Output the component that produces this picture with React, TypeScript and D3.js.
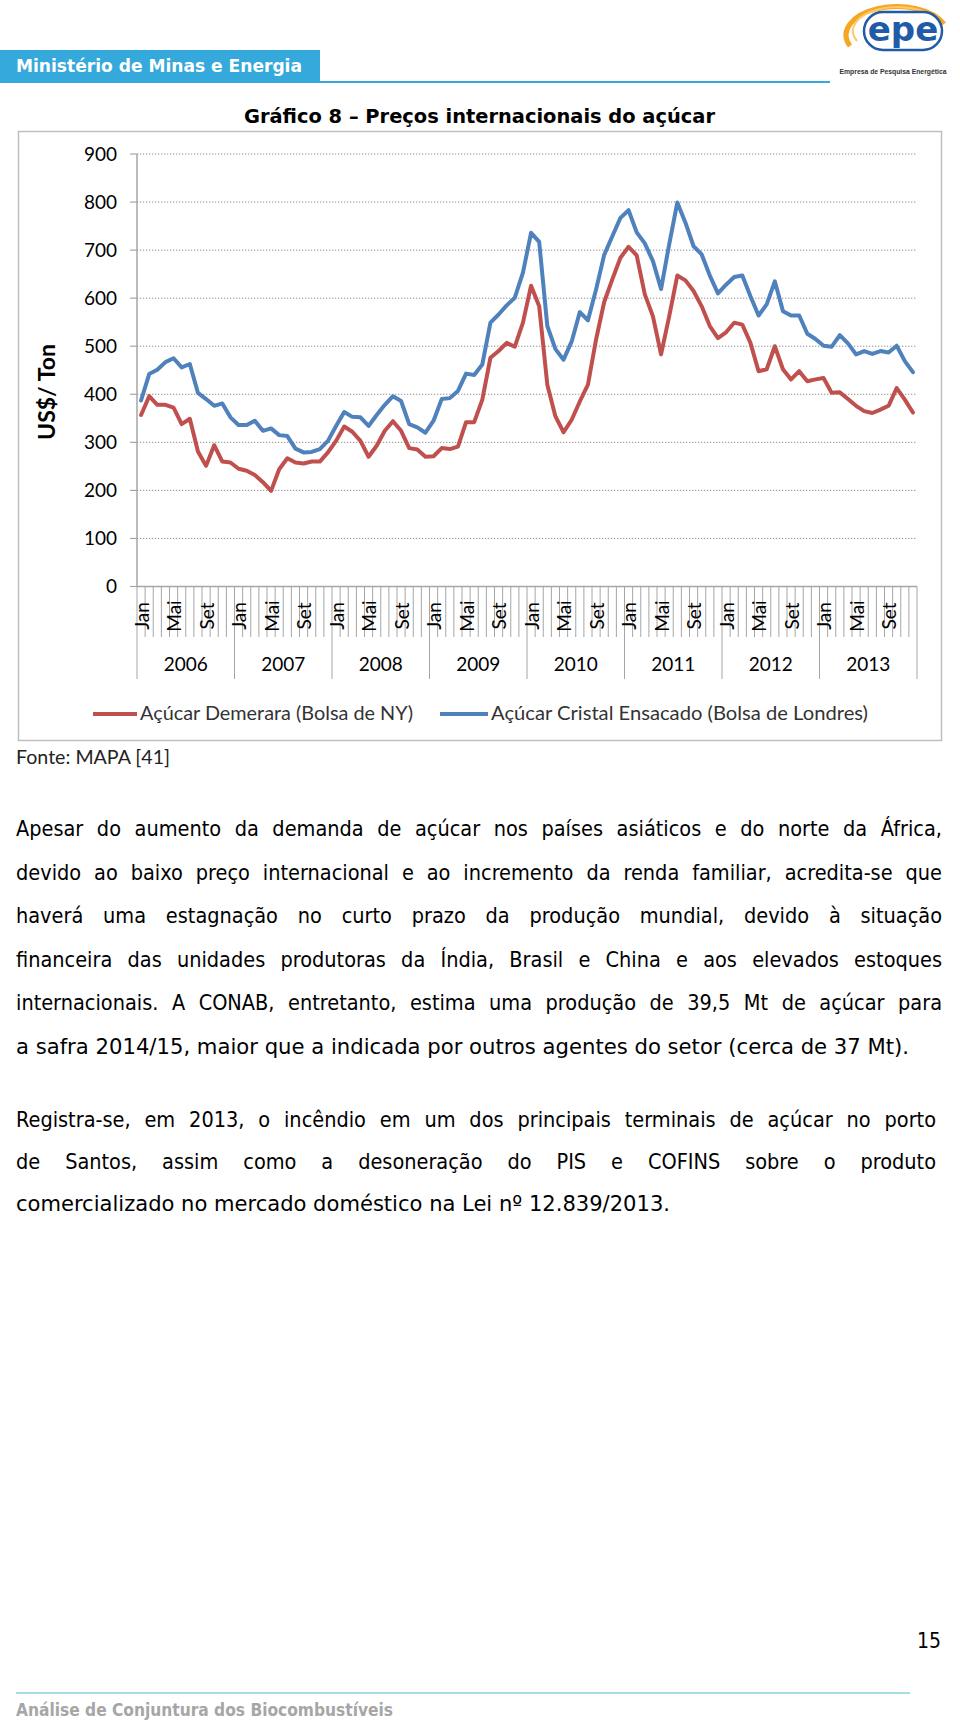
import { useLayoutEffect, useRef } from "react"
import * as d3 from "d3"

// monthly prices, Jan 2006 - Dec 2013 (US$/ton)
const years = ["2006", "2007", "2008", "2009", "2010", "2011", "2012", "2013"]
const monthNames = ["Jan", "Fev", "Mar", "Abr", "Mai", "Jun", "Jul", "Ago", "Set", "Out", "Nov", "Dez"]
const labeledMonths = ["Jan", "Mai", "Set"]
const yTicks = [0, 100, 200, 300, 400, 500, 600, 700, 800, 900]
const seriesNames = ["Açúcar Demerara (Bolsa de NY)", "Açúcar Cristal Ensacado (Bolsa de Londres)"]

const demerara = [
  357, 396, 378, 378, 372, 338, 349, 281, 251, 294, 260, 258,
  245, 241, 232, 217, 199, 244, 267, 258, 256, 260, 260, 279,
  303, 333, 322, 303, 270, 293, 324, 344, 324, 288, 285, 270,
  271, 288, 286, 291, 342, 342, 389, 476, 490, 507, 499, 549,
  626, 583, 420, 354, 321, 347, 385, 420, 514, 592, 639, 684,
  707, 689, 608, 562, 483, 562, 647, 637, 615, 583, 542, 517,
  529, 549, 545, 507, 448, 452, 500, 452, 431, 448, 427, 431,
  434, 403, 404, 390, 376, 365, 361, 368, 376, 413, 389, 362,
]
const cristal = [
  387, 442, 451, 467, 475, 456, 463, 403, 390, 376, 381, 352,
  336, 336, 345, 324, 329, 315, 313, 287, 279, 280, 286, 303,
  334, 363, 353, 352, 334, 357, 378, 396, 386, 338, 331, 320,
  345, 390, 392, 407, 443, 440, 462, 549, 566, 585, 601, 653,
  736, 717, 542, 494, 472, 510, 571, 554, 618, 690, 729, 767,
  783, 737, 714, 677, 619, 712, 799, 757, 708, 691, 647, 610,
  628, 644, 647, 604, 564, 587, 635, 573, 564, 564, 526, 515,
  501, 499, 523, 506, 483, 490, 484, 490, 487, 501, 469, 446,
]

const paragraph1 = [
  "Apesar do aumento da demanda de açúcar nos países asiáticos e do norte da África,",
  "devido ao baixo preço internacional e ao incremento da renda familiar, acredita-se que",
  "haverá uma estagnação no curto prazo da produção mundial, devido à situação",
  "financeira das unidades produtoras da Índia, Brasil e China e aos elevados estoques",
  "internacionais. A CONAB, entretanto, estima uma produção de 39,5 Mt de açúcar para",
  "a safra 2014/15, maior que a indicada por outros agentes do setor (cerca de 37 Mt).",
]
const paragraph2 = [
  "Registra-se, em 2013, o incêndio em um dos principais terminais de açúcar no porto",
  "de Santos, assim como a desoneração do PIS e COFINS sobre o produto",
  "comercializado no mercado doméstico na Lei nº 12.839/2013.",
]

const categories = years.flatMap((yr) => monthNames.map((m) => `${m} ${yr}`))

const chartFont = "Lato, 'Open Sans', sans-serif"
const bodyFont = "'DejaVu Sans Condensed', 'DejaVu Sans', sans-serif"
const axisGray = "#A6A6A6"

export default function App() {
  const svgRef = useRef<SVGSVGElement>(null)

  // fit texts to the widths measured on the page (justify or scale)
  useLayoutEffect(() => {
    const svg = svgRef.current
    if (!svg) return
    svg.querySelectorAll<SVGTextElement>("text[data-w]").forEach((el) => {
      const target = +(el.getAttribute("data-w") || 0)
      const justify = el.getAttribute("data-j") === "1"
      const natural = el.getComputedTextLength()
      const spaces = (el.textContent || "").split(" ").length - 1
      if (justify && natural < target && spaces > 0) {
        el.setAttribute("word-spacing", String((target - natural) / spaces))
      } else if (Math.abs(natural - target) > 2) {
        el.setAttribute("textLength", String(target))
        el.setAttribute("lengthAdjust", "spacingAndGlyphs")
      }
    })
  }, [])

  const x = d3.scaleBand<string>().domain(categories).range([137, 917])
  const y = d3.scaleLinear().domain([0, 900]).range([586.5, 154])
  const bw = x.bandwidth()
  const cx = (i: number) => (x(categories[i]) || 0) + bw / 2

  const line = d3
    .line<number>()
    .x((_, i) => cx(i))
    .y((d) => y(d))

  const series = [
    { name: seriesNames[0], values: demerara, color: "#C0504D" },
    { name: seriesNames[1], values: cristal, color: "#4F81BD" },
  ]

  const x0 = x.range()[0]
  const x1 = x.range()[1]
  const axisY = y(0)

  return (
    <svg
      ref={svgRef}
      width={960}
      height={1722}
      style={{ position: "absolute", left: 0, top: 0, background: "#fff" }}
    >
      <rect width={960} height={1722} fill="#fff" />

      {/* header */}
      <rect x={0} y={50} width={320} height={33} fill="#35A8DC" />
      <line x1={320} x2={830} y1={82} y2={82} stroke="#35A8DC" strokeWidth={2} />
      <text x={16} y={72} data-w={286} fill="#fff" fontFamily={bodyFont} fontWeight="bold" fontSize={17}>
        Ministério de Minas e Energia
      </text>

      {/* logo */}
      <g>
        <path d="M 850 46 A 50 28 0 1 1 944 24" fill="none" stroke="#F6A623" strokeWidth={5} />
        <path d="M 857 41 A 43 23 0 1 1 938 21" fill="none" stroke="#FBC96B" strokeWidth={2} />
        <rect x={864} y={12} width={78} height={38} rx={19} fill="#fff" stroke="#1F5BA6" strokeWidth={2.5} />
        <text x={903} y={41} textAnchor="middle" fill="#1F5BA6" fontFamily="'DejaVu Sans', sans-serif" fontWeight="bold" fontSize={34}>
          epe
        </text>
        <text x={893} y={74} textAnchor="middle" fill="#333" fontFamily="'Liberation Sans', Arial, sans-serif" fontWeight="bold" fontSize={6.8}>
          Empresa de Pesquisa Energética
        </text>
      </g>

      {/* title */}
      <text x={244} y={123} data-w={471} fontFamily={bodyFont} fontWeight="bold" fontSize={20} fill="#000">
        Gráfico 8 – Preços internacionais do açúcar
      </text>

      {/* chart frame */}
      <rect x={18.5} y={131.5} width={923} height={609} fill="#fff" stroke="#BFBFBF" strokeWidth={1.5} />

      {/* gridlines + y axis */}
      {yTicks.map((t) => (
        <g key={t}>
          {t > 0 && (
            <line x1={x0} x2={x1} y1={y(t)} y2={y(t)} stroke="#8F8F8F" strokeWidth={1} strokeDasharray="1.3 1.7" />
          )}
          <line x1={130} x2={x0} y1={y(t)} y2={y(t)} stroke={axisGray} strokeWidth={1.2} />
          <text x={117} y={y(t) + 6.5} textAnchor="end" fontFamily={chartFont} fontSize={19} fill="#000">
            {t}
          </text>
        </g>
      ))}
      <line x1={x0} x2={x0} y1={y(900)} y2={axisY} stroke={axisGray} strokeWidth={1.5} />
      <text
        transform={`translate(55,392) rotate(-90)`}
        textAnchor="middle"
        fontFamily={chartFont}
        fontWeight="bold"
        fontSize={23}
        fill="#000"
      >
        US$/ Ton
      </text>

      {/* x axis */}
      {d3.range(categories.length + 1).map((k) => {
        const xx = x0 + k * bw
        const long = k % 12 === 0
        return (
          <line key={k} x1={xx} x2={xx} y1={axisY} y2={long ? 679 : 637} stroke={axisGray} strokeWidth={1} />
        )
      })}
      <line x1={x0} x2={x1} y1={axisY} y2={axisY} stroke={axisGray} strokeWidth={1.5} />
      {categories.map((c, i) => {
        const m = c.split(" ")[0]
        if (!labeledMonths.includes(m)) return null
        return (
          <text
            key={c}
            transform={`translate(${cx(i) + 1},616) rotate(-90)`}
            textAnchor="middle"
            dy="0.35em"
            fontFamily={chartFont}
            fontSize={19}
            fill="#000"
          >
            {m}
          </text>
        )
      })}
      {years.map((yr, j) => (
        <text
          key={yr}
          x={x0 + (j * 12 + 6) * bw}
          y={671}
          textAnchor="middle"
          fontFamily={chartFont}
          fontSize={19}
          fill="#000"
        >
          {yr}
        </text>
      ))}

      {/* series */}
      {series.map((s) => (
        <path
          key={s.name}
          d={line(s.values) || ""}
          fill="none"
          stroke={s.color}
          strokeWidth={4}
          strokeLinejoin="round"
          strokeLinecap="round"
        />
      ))}

      {/* legend */}
      <line x1={93} x2={137} y1={714} y2={714} stroke={series[0].color} strokeWidth={4} />
      <text x={140} y={720} data-w={273} fontFamily={chartFont} fontSize={19} fill="#333">
        {series[0].name}
      </text>
      <line x1={440} x2={488} y1={714} y2={714} stroke={series[1].color} strokeWidth={4} />
      <text x={491} y={720} data-w={377} fontFamily={chartFont} fontSize={19} fill="#333">
        {series[1].name}
      </text>

      <text x={16} y={764} data-w={154} fontFamily={chartFont} fontSize={19} fill="#222">
        Fonte: MAPA [41]
      </text>

      {/* body text */}
      {paragraph1.map((t, i) => {
        const last = i === paragraph1.length - 1
        return (
          <text
            key={t}
            x={16}
            y={836 + i * 43.5}
            data-w={last ? 893 : 926}
            data-j={last ? "0" : "1"}
            fontFamily={bodyFont}
            fontSize={21.5}
            fill="#000"
          >
            {t}
          </text>
        )
      })}
      {paragraph2.map((t, i) => {
        const last = i === paragraph2.length - 1
        return (
          <text
            key={t}
            x={16}
            y={1127 + i * 42}
            data-w={last ? 654 : 920}
            data-j={last ? "0" : "1"}
            fontFamily={bodyFont}
            fontSize={21.5}
            fill="#000"
          >
            {t}
          </text>
        )
      })}

      {/* page number + footer */}
      <text x={941} y={1648} textAnchor="end" fontFamily={bodyFont} fontSize={21} fill="#000">
        15
      </text>
      <line x1={16} x2={910} y1={1693} y2={1693} stroke="#A8DCE4" strokeWidth={2} />
      <text x={16} y={1716} data-w={377} fontFamily={bodyFont} fontWeight="bold" fontSize={17} fill="#A6A6A6">
        Análise de Conjuntura dos Biocombustíveis
      </text>
    </svg>
  )
}
